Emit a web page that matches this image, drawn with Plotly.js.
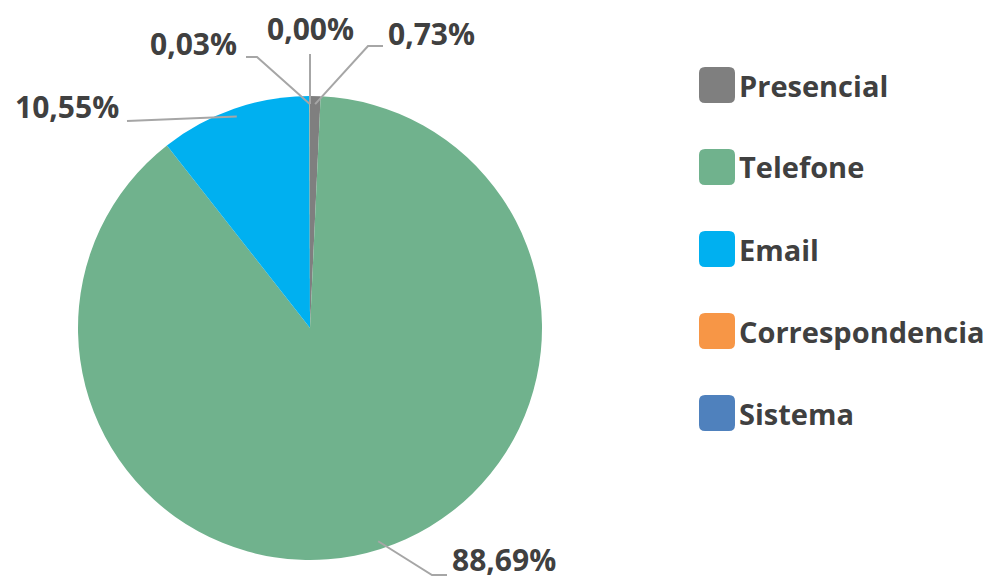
<!DOCTYPE html>
<html>
<head>
<meta charset="utf-8">
<script src="https://cdn.plot.ly/plotly-3.0.1.min.js"></script>
<style>html,body{margin:0;padding:0;background:#fff;}#chart{width:1002px;height:581px;}</style>
</head>
<body>
<div id="chart"></div>
<script>
// ---- data ----
const labels = ['Presencial', 'Telefone', 'Email', 'Correspondencia', 'Sistema'];
const values = [0.73, 88.69, 10.55, 0.03, 0.00];
const colors = ['#7f7f7f', '#70b28d', '#00b0f0', '#f79646', '#4f81bd'];

// ---- layout constants (pixels) ----
const W = 1002, H = 581;
const cx = 310, cy = 328, R = 232;
const FONT = 'Open Sans, Noto Sans, sans-serif';
const TXT = '#404040';
const LINE = '#a6a6a6';

// label placement for each slice (text anchor + leader line bend/end)
const labelPos = [
  {tx: 386, ty: 33,  xa: 'left',   pts: [[368, 46], [383, 46]]},
  {tx: 450, ty: 559, xa: 'left',   pts: [[432, 575], [447, 575]]},
  {tx: 121, ty: 106, xa: 'right',  pts: [[127, 121]]},
  {tx: 239, ty: 44,  xa: 'right',  pts: [[257, 57], [246, 57]]},
  {tx: 310, ty: 28,  xa: 'center', pts: [[310, 54]]}
];
const legendX = 699, legendY0 = 85, legendStep = 82, sq = 36;

const px = x => x / W;
const py = y => 1 - y / H;
const fmt = v => v.toFixed(2).replace('.', ',') + '%';

const total = values.reduce((a, b) => a + b, 0);
const shapes = [], annotations = [];
let cum = 0;
values.forEach((v, i) => {
  const mid = (cum + v / 2) / total * 2 * Math.PI; // clockwise from 12 o'clock
  cum += v;
  const r0 = R * 0.965;
  const sx = cx + r0 * Math.sin(mid), sy = cy - r0 * Math.cos(mid);
  const L = labelPos[i];
  let d = `M${px(sx)},${py(sy)}`;
  L.pts.forEach(p => { d += ` L${px(p[0])},${py(p[1])}`; });
  shapes.push({type: 'path', xref: 'paper', yref: 'paper', path: d,
               line: {color: LINE, width: 2}});
  annotations.push({xref: 'paper', yref: 'paper', x: px(L.tx), y: py(L.ty),
    xanchor: L.xa, yanchor: 'middle', showarrow: false, text: fmt(v),
    font: {family: FONT, size: 30, color: TXT, weight: 700}});
});

// custom legend
function roundRect(x, y, w, h, r) {
  const p = [
    `M${px(x + r)},${py(y)}`, `L${px(x + w - r)},${py(y)}`,
    `Q${px(x + w)},${py(y)} ${px(x + w)},${py(y + r)}`,
    `L${px(x + w)},${py(y + h - r)}`,
    `Q${px(x + w)},${py(y + h)} ${px(x + w - r)},${py(y + h)}`,
    `L${px(x + r)},${py(y + h)}`,
    `Q${px(x)},${py(y + h)} ${px(x)},${py(y + h - r)}`,
    `L${px(x)},${py(y + r)}`,
    `Q${px(x)},${py(y)} ${px(x + r)},${py(y)}`, 'Z'];
  return p.join(' ');
}
labels.forEach((lab, i) => {
  const yc = legendY0 + i * legendStep;
  shapes.push({type: 'path', xref: 'paper', yref: 'paper',
    path: roundRect(legendX, yc - sq / 2, sq, sq, 6),
    fillcolor: colors[i], line: {width: 0}});
  annotations.push({xref: 'paper', yref: 'paper', x: px(legendX + sq + 2), y: py(yc),
    xanchor: 'left', yanchor: 'middle', showarrow: false, text: lab,
    font: {family: FONT, size: 29, color: TXT, weight: 700}});
});

const trace = {
  type: 'pie', labels: labels, values: values, sort: false,
  direction: 'clockwise', rotation: 0,
  marker: {colors: colors, line: {width: 0}},
  textinfo: 'none', hoverinfo: 'label+percent', showlegend: false,
  domain: {x: [px(cx - R), px(cx + R)], y: [py(cy + R), py(cy - R)]}
};

const layout = {
  width: W, height: H, margin: {l: 0, r: 0, t: 0, b: 0},
  paper_bgcolor: '#ffffff', plot_bgcolor: '#ffffff',
  showlegend: false, shapes: shapes, annotations: annotations
};
Plotly.newPlot('chart', [trace], layout, {displayModeBar: false, staticPlot: true});
</script>
</body>
</html>
